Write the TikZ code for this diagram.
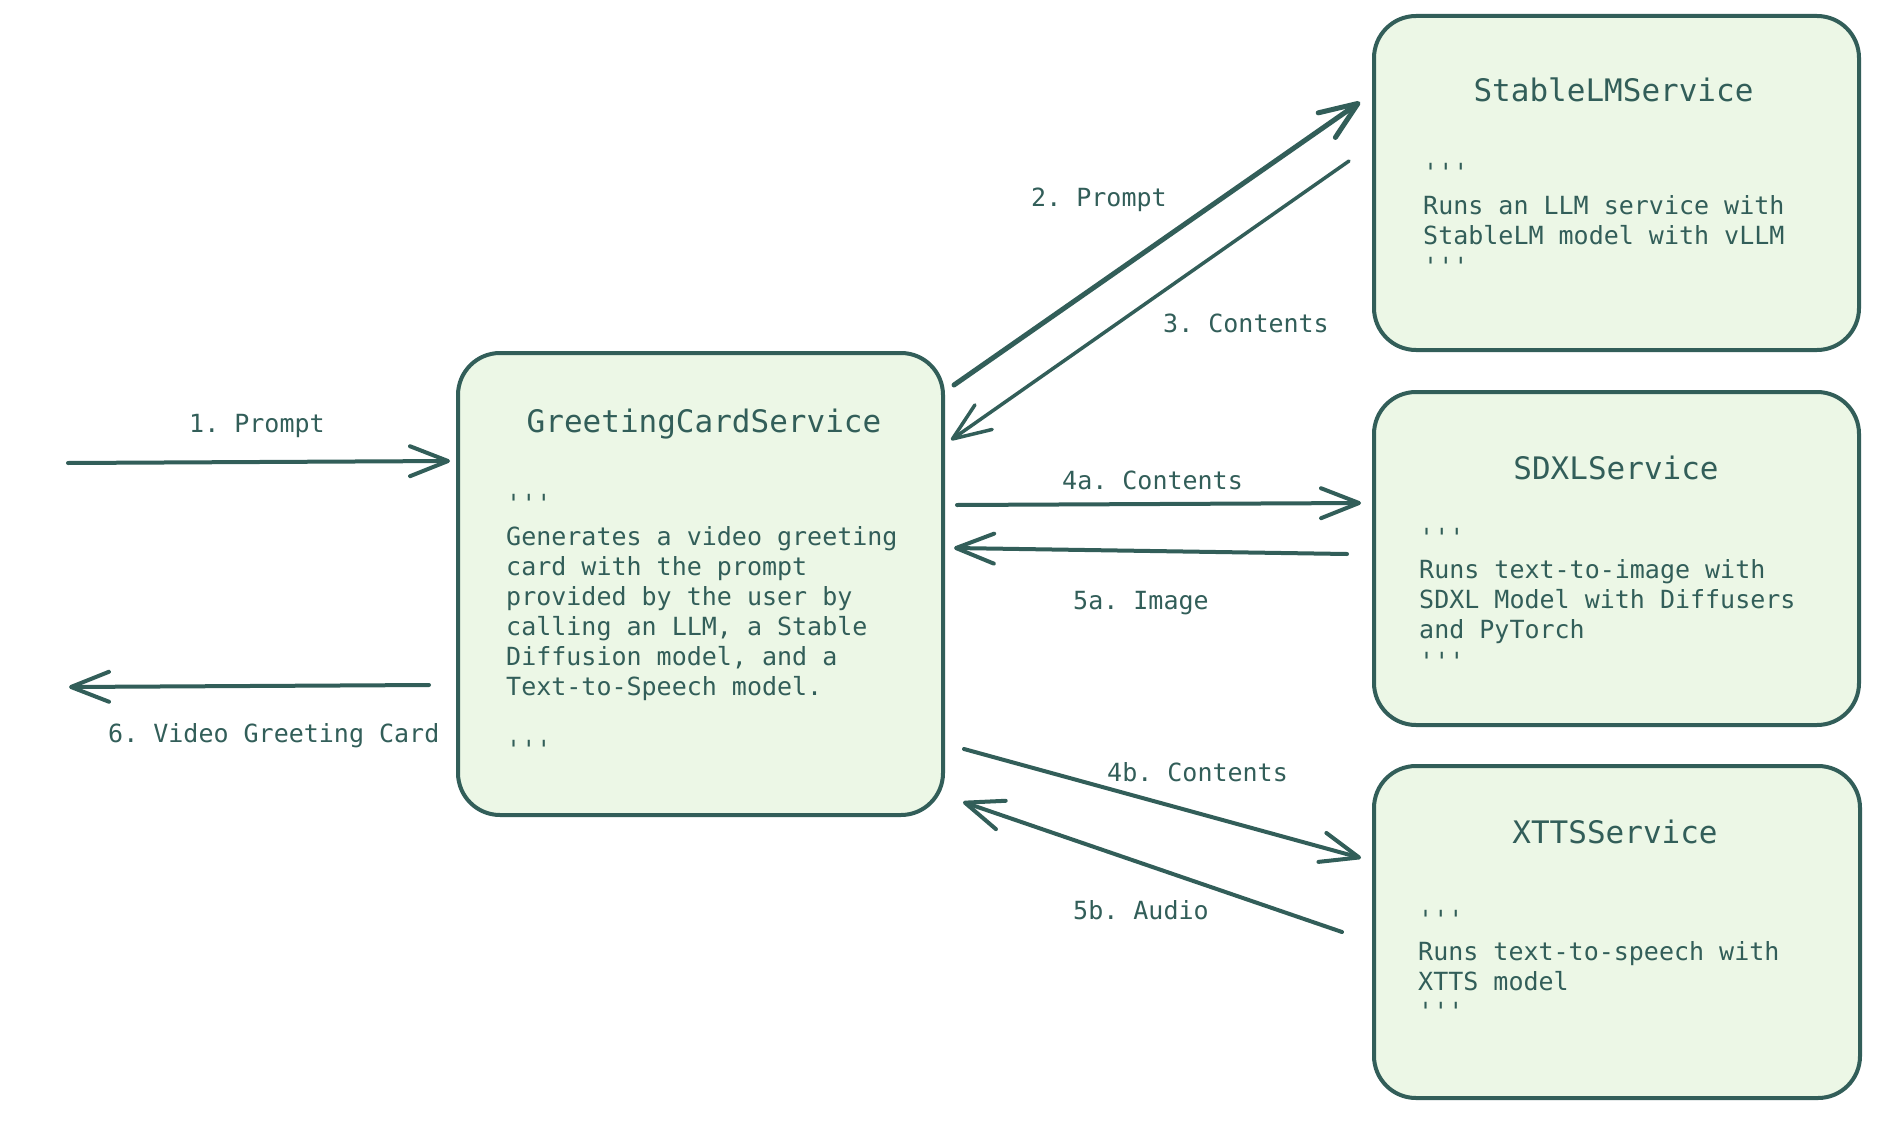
\documentclass[tikz,border=0pt]{standalone}
\usepackage{fontspec}
\setmonofont{DejaVu Sans Mono}
\usetikzlibrary{arrows.meta}
\definecolor{ink}{RGB}{50,94,89}
\definecolor{boxfill}{RGB}{236,247,230}
\tikzset{
  svc/.style={draw=ink, fill=boxfill, line width=4pt, rounded corners=42pt, inner sep=0pt},
  ttl/.style={text=ink, font=\ttfamily\fontsize{31}{36}\selectfont, anchor=base, inner sep=0pt},
  body/.style={text=ink, font=\ttfamily\fontsize{25}{30}\selectfont, anchor=north west, align=left, inner sep=0pt},
  lbl/.style={text=ink, font=\ttfamily\fontsize{25}{30}\selectfont, anchor=base west, inner sep=0pt},
  arr/.style={draw=ink, line width=4pt, line cap=round,
    -{Straight Barb[length=38pt, width=30pt, line cap=round, line join=round]}},
}
\begin{document}
\begin{tikzpicture}[x=1pt, y=-1pt]
\useasboundingbox[fill=white] (0,0) rectangle (1884,1126);

% boxes
\node[svc, minimum width=485pt, minimum height=462pt] (main) at (700.5,584) {};
\node[svc, minimum width=485pt, minimum height=334pt] (stable) at (1616.5,183) {};
\node[svc, minimum width=485pt, minimum height=333pt] (sdxl) at (1616.5,558.5) {};
\node[svc, minimum width=486pt, minimum height=332pt] (xtts) at (1617,932) {};

% titles
\node[ttl] (mainT) at (704,432) {GreetingCardService};
\node[ttl] (stableT) at (1613.5,102) {StableLMService};
\node[ttl] (sdxlT) at (1616,479) {SDXLService};
\node[ttl] (xttsT) at (1615,843) {XTTSService};

% bodies
\node[body] (mainB) at (506,491) {\strut'''\\[3pt]
Generates a video greeting\\
card with the prompt\\
provided by the user by\\
calling an LLM, a Stable\\
Diffusion model, and a\\
Text-to-Speech model.\\[33pt]
'''};
\node[body] (stableB) at (1423,160) {\strut'''\\[3pt]
Runs an LLM service with\\
StableLM model with vLLM\\[1pt]
'''};
\node[body] (sdxlB) at (1419,525) {\strut'''\\[2pt]
Runs text-to-image with\\
SDXL Model with Diffusers\\
and PyTorch\\[2pt]
'''};
\node[body] (xttsB) at (1418,907) {\strut'''\\[2pt]
Runs text-to-speech with\\
XTTS model\\
'''};

% free ends
\coordinate (userIn) at (68,463);
\coordinate (userOut) at (69,687);

% connectors
\draw[arr] (userIn) -- ([shift={(-6,110)}]main.north west);
\draw[arr] ([shift={(-27,334)}]main.north west) -- (userOut);
\draw[arr, line width=5pt] ([shift={(9,34)}]main.north east) -- ([shift={(-12,88)}]stable.north west);
\draw[arr, line width=3.5pt] ([shift={(-23,147)}]stable.north west) -- ([shift={(6,89)}]main.north east);
\draw[arr] ([shift={(12,154)}]main.north east) -- ([shift={(-11,113)}]sdxl.north west);
\draw[arr] ([shift={(-25,164)}]sdxl.north west) -- ([shift={(9,197)}]main.north east);
\draw[arr] ([shift={(19,398)}]main.north east) -- ([shift={(-11,94)}]xtts.north west);
\draw[arr] ([shift={(-30,168)}]xtts.north west) -- ([shift={(18,451)}]main.north east);

% labels
\node[lbl] (l1) at (189,432) {1. Prompt};
\node[lbl] (l6) at (108,742) {6. Video Greeting Card};
\node[lbl] (l2) at (1031,207) {2. Prompt};
\node[lbl] (l3) at (1163,332) {3. Contents};
\node[lbl] (l4a) at (1062,489) {4a. Contents};
\node[lbl] (l5a) at (1073,609) {5a. Image};
\node[lbl] (l4b) at (1107,781) {4b. Contents};
\node[lbl] (l5b) at (1073,919) {5b. Audio};
\end{tikzpicture}
\end{document}
